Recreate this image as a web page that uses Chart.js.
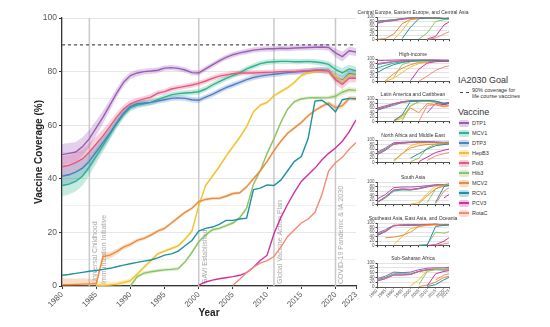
<!DOCTYPE html>
<html>
<head>
<meta charset="utf-8">
<script src="https://cdn.jsdelivr.net/npm/chart.js@4"></script>
<style>
  body { margin: 0; width: 550px; height: 327px; background: #fff; position: relative; overflow: hidden;
         font-family: "Liberation Sans", Arial, sans-serif; }
  canvas { position: absolute; }
  .txt { position: absolute; white-space: nowrap; color: #333; }
  .key { position: absolute; width: 10px; height: 7px; border-radius: 2px; }
  .key i { position: absolute; left: 0; right: 0; top: 2.5px; height: 2px; }
</style>
</head>
<body>
<canvas id="main" width="372" height="327" style="left:0;top:0"></canvas>

<div class="txt" style="left:458px;top:75px;font-size:9px">IA2030 Goal</div>
<div style="position:absolute;left:460px;top:92px;width:9px;border-top:1.3px dashed #444"></div>
<div class="txt" style="left:472px;top:87px;font-size:5.5px;line-height:6px">90% coverage for<br>life course vaccines</div>
<div class="txt" style="left:458px;top:107px;font-size:9px">Vaccine</div>
<div id="legend"></div>

<script>
// main series, one value per year
const years = [1980,1981,1982,1983,1984,1985,1986,1987,1988,1989,1990,1991,1992,1993,1994,1995,1996,1997,1998,1999,
               2000,2001,2002,2003,2004,2005,2006,2007,2008,2009,2010,2011,2012,2013,2014,2015,2016,2017,2018,2019,
               2020,2021,2022,2023];
const xTicks = [1980,1985,1990,1995,2000,2005,2010,2015,2020,2023];
const vaccines = ['DTP1','MCV1','DTP3','HepB3','Pol3','Hib3','MCV2','RCV1','PCV3','RotaC'];

const dtp1  = [49,49.5,50,52,55,59,63,67.5,72,76,78.5,79.5,80,80.2,80.5,81.3,81.5,81.2,80.6,79.6,
               79.5,81,82.5,84,85.3,86.3,87,87.5,88,88.3,88.5,88.5,88.7,88.6,88.8,88.9,89,89.1,89.2,89,
               87,85.6,87.8,87.3];
const mcv1  = [37.5,38,39,41,44.5,48.5,52.5,56.5,60.5,64,66.5,67.5,68,68.5,69.5,70.5,71.3,71.8,72,72.2,
               72.5,73.5,75,76.3,77.5,78.5,79.5,81,82,83,83.5,83.7,83.8,83.8,83.7,83.7,83.8,83.6,83.3,82.7,
               80.8,79.5,81,80.3];
const dtp3  = [41,41.5,42.5,44,46.5,50,53.5,57,61,64.5,67,68,68.3,68.5,69,69.5,70,70.2,70,69.5,
               69.3,70.5,71.5,72.8,74,75,76,77,77.8,78.3,78.7,79,79.3,79.6,79.8,80,80.2,80.5,80.6,80.4,
               78,76.8,79.3,78.8];
const hepb3 = [null,null,null,null,null,0.2,0.3,0.4,0.7,1.3,2,4.5,7,9.5,12,13,14,15,17.5,20.5,
               30,37.5,41,44.5,48.5,52,55.5,59.5,65,67.5,68.5,71,72.5,74,76,78.5,79.5,80,80.2,80.2,
               78.2,76.5,78.8,78.6];
const pol3  = [44.5,45,46,47.5,50,53,56,59.5,63,66,68,69,69.8,70.5,72,72.5,73.5,74,74.5,75,
               75.6,76.5,77.5,78.3,78.8,79.2,79.5,79.5,79.5,79.6,79.7,79.8,80,80,80,80.2,80.3,80.5,80.4,80.2,
               77,75.2,77.5,77.5];
const hib3  = [null,null,null,null,null,null,null,null,null,null,0,3.5,4.8,5.3,5.7,6,6.2,6.5,9,12.5,
               16.5,19,21,21.5,22.5,23.5,25.5,29,38,43,49.5,55,61,66,68.8,69.8,70.2,70.3,70.2,70.3,
               70.8,72.3,73.2,73];
const mcv2  = [0.5,0.5,0.6,0.7,0.8,0.8,11,11.5,12.8,14.5,15.5,17,17.8,19,20.5,21.5,23.5,25.5,27.5,29,
               31.5,32.3,32.7,32.7,33.5,34.5,34.8,37,40,43,46.5,50.5,54,57,59,61,63.5,65.5,67,68.3,
               66.5,67.3,70,70];
const rcv1  = [4,4.3,4.7,5.1,5.5,5.8,6.2,6.6,7.2,7.8,8.3,8.8,9.3,9.7,10.5,11.5,12,13,15,17,
               20.5,21.5,22,23,24.5,24.5,25,25.3,36,36.5,37.7,37.5,39.5,43,46.5,48.3,55,69,69.3,67.5,
               65,69.5,70,69.8];
const pcv3  = [null,null,null,null,null,null,null,null,null,null,null,null,null,null,null,null,null,null,null,null,
               0.3,1.5,2.2,2.7,3.1,3.5,4,5,7,9.5,11.5,19.5,25.5,30.5,35,39,41.5,44,47,49.5,
               51.5,54,57.5,62];
const rotac = [null,null,null,null,null,null,null,null,null,null,null,null,null,null,null,null,null,null,null,null,
               null,null,null,null,null,0.3,2.5,5,7,8.5,9.5,11,14.5,18.5,21,23.5,25,27.5,34,43,
               46,48,51,53.5];
// half width of the uncertainty ribbons
const bandHalf = [4,3.9,3.7,3.5,3.2,2.8,2.4,2,1.7,1.5,1.3,1.2,1.1,1.1,1,1,1,1,1,1,
                  1,1,1,1,1,1,1,1,1,1,1,1,1,1,1,1,1,1,1.1,1.2,
                  1.6,1.8,1.6,1.5];

const goalValue = 90;
const eventYears = [1984, 2000, 2011, 2020];
const eventLabels = [['Universal Childhood', 'Immunization Initiative'], ['GAVI Established'],
                     ['Global Vaccine Action Plan'], ['COVID-19 Pandemic & IA 2030']];

// regional panels
const regionYears = [1980,1985,1990,1995,2000,2005,2010,2015,2020,2023];
const ceeca = {
  DTP1:  [82,85,88,93,96,96,97,97,94,95],
  MCV1:  [80,84,88,93,96,96,97,96,93,94],
  DTP3:  [72,80,84,90,94,95,96,95,92,94],
  HepB3: [null,null,2,40,88,93,95,95,92,93],
  Pol3:  [75,82,85,91,95,95,96,95,92,94],
  Hib3:  [null,null,null,null,null,3,30,80,88,90],
  MCV2:  [2,5,25,70,90,93,95,95,93,94],
  RCV1:  [null,null,null,5,55,93,95,95,93,94],
  PCV3:  [null,null,null,null,null,null,3,15,65,78],
  RotaC: [null,null,null,null,null,null,1,8,25,35]
};
const highIncome = {
  DTP1:  [93,94,95,96,96,96,96,96,95,95],
  MCV1:  [60,72,82,88,91,92,93,93,92,92],
  DTP3:  [75,82,88,92,93,94,94,94,93,93],
  HepB3: [null,2,15,40,65,80,86,90,90,91],
  Pol3:  [80,85,89,92,93,93,94,94,93,93],
  Hib3:  [null,null,20,75,88,92,93,93,93,93],
  MCV2:  [null,5,35,60,75,85,88,90,91,91],
  RCV1:  [40,60,75,85,90,92,93,93,92,92],
  PCV3:  [null,null,null,null,5,55,82,88,90,90],
  RotaC: [null,null,null,null,null,2,25,50,65,70]
};
const latam = {
  DTP1:  [60,70,80,88,92,93,93,90,82,85],
  MCV1:  [55,65,78,88,93,93,93,90,80,83],
  DTP3:  [50,62,72,85,90,91,91,88,78,82],
  HepB3: [null,null,3,15,70,88,90,86,78,80],
  Pol3:  [55,65,78,86,90,91,91,88,78,82],
  Hib3:  [null,null,null,5,70,88,90,86,78,80],
  MCV2:  [null,null,2,25,60,40,80,75,65,70],
  RCV1:  [null,null,5,30,90,92,93,90,80,83],
  PCV3:  [null,null,null,null,null,null,40,80,75,80],
  RotaC: [null,null,null,null,null,2,72,75,70,72]
};
const name = {
  DTP1:  [45,65,88,90,92,93,93,92,90,91],
  MCV1:  [40,60,82,87,90,91,91,90,88,88],
  DTP3:  [35,55,82,86,89,90,90,89,86,88],
  HepB3: [null,null,5,40,75,86,88,88,86,87],
  Pol3:  [35,55,82,86,89,90,90,89,86,88],
  Hib3:  [null,null,null,null,5,20,65,82,84,86],
  MCV2:  [null,null,10,40,65,75,80,82,82,84],
  RCV1:  [null,null,null,null,20,40,60,75,80,82],
  PCV3:  [null,null,null,null,null,5,25,45,55,60],
  RotaC: [null,null,null,null,null,null,10,30,40,45]
};
const southAsia = {
  DTP1:  [25,45,75,78,78,80,84,88,89,91],
  MCV1:  [10,30,60,65,65,72,80,86,87,90],
  DTP3:  [10,35,65,68,65,70,78,85,87,90],
  HepB3: [null,null,null,null,2,10,50,82,86,88],
  Pol3:  [10,35,65,70,68,72,80,86,87,90],
  Hib3:  [null,null,null,null,null,null,10,70,86,88],
  MCV2:  [null,null,null,null,null,5,40,70,82,85],
  RCV1:  [null,null,null,null,null,null,null,10,80,85],
  PCV3:  [null,null,null,null,null,null,null,null,30,45],
  RotaC: [null,null,null,null,null,null,null,5,60,75]
};
const seao = {
  DTP1:  [55,70,90,92,93,92,93,94,92,93],
  MCV1:  [45,62,88,90,90,92,94,95,92,93],
  DTP3:  [45,62,88,90,90,91,93,94,91,92],
  HepB3: [null,null,5,40,75,85,90,92,90,91],
  Pol3:  [50,65,88,90,91,91,93,94,91,92],
  Hib3:  [null,null,null,null,null,2,5,60,55,62],
  MCV2:  [null,35,38,45,60,85,90,92,90,91],
  RCV1:  [null,null,null,null,null,2,3,85,90,92],
  PCV3:  [null,null,null,null,null,null,1,5,20,35],
  RotaC: [null,null,null,null,null,null,null,2,8,12]
};
const ssa = {
  DTP1:  [35,45,62,60,62,72,78,80,80,82],
  MCV1:  [30,40,55,55,55,65,70,72,70,72],
  DTP3:  [25,35,50,50,52,65,72,75,74,75],
  HepB3: [null,null,null,null,5,30,70,74,74,75],
  Pol3:  [25,35,50,50,52,65,72,74,73,74],
  Hib3:  [null,null,null,null,null,10,65,73,73,75],
  MCV2:  [null,null,null,null,null,2,8,20,40,45],
  RCV1:  [null,null,null,null,null,null,2,10,30,40],
  PCV3:  [null,null,null,null,null,null,5,55,65,68],
  RotaC: [null,null,null,null,null,null,null,30,50,55]
};
const regionTitles = ['Central Europe, Eastern Europe, and Central Asia', 'High-income', 'Latin America and Caribbean',
                      'North Africa and Middle East', 'South Asia', 'Southeast Asia, East Asia, and Oceania',
                      'Sub-Saharan Africa'];
const regions = [ceeca, highIncome, latam, name, southAsia, seao, ssa];

const colors = {
  DTP1: '#9b5bb6', MCV1: '#2eb38d', DTP3: '#4f7ec6', HepB3: '#f2c12e', Pol3: '#e8567f',
  Hib3: '#8dc463', MCV2: '#ec8b3b', RCV1: '#21909e', PCV3: '#d12f9f', RotaC: '#f48a73'
};
const mainSeries = { DTP1: dtp1, MCV1: mcv1, DTP3: dtp3, HepB3: hepb3, Pol3: pol3,
                     Hib3: hib3, MCV2: mcv2, RCV1: rcv1, PCV3: pcv3, RotaC: rotac };
const withBand = ['DTP1', 'MCV1', 'DTP3', 'Pol3', 'MCV2', 'Hib3', 'HepB3'];

function alpha(hex, a) {
  const n = parseInt(hex.slice(1), 16);
  return `rgba(${n >> 16},${(n >> 8) & 255},${n & 255},${a})`;
}

const FONT = '"Liberation Sans", Arial, sans-serif';
Chart.defaults.font.family = FONT;

// ---------- main chart ----------
const mainSets = [];
withBand.forEach(v => {
  const vals = mainSeries[v];
  const w = v === 'DTP1' || v === 'MCV1' || v === 'DTP3' || v === 'Pol3' ? 1 : 0.6;
  mainSets.push({ data: vals.map((d, i) => d == null ? null : d - bandHalf[i] * w),
                  borderWidth: 0, pointRadius: 0, fill: false, order: 20 });
  mainSets.push({ data: vals.map((d, i) => d == null ? null : d + bandHalf[i] * w),
                  borderWidth: 0, pointRadius: 0, fill: '-1', backgroundColor: alpha(colors[v], 0.28), order: 20 });
});
vaccines.slice().reverse().forEach((v, k) => {
  mainSets.push({ label: v, data: mainSeries[v], borderColor: colors[v], borderWidth: 1.4,
                  pointRadius: 0, tension: 0, fill: false, order: k });
});

const mainDecor = {
  id: 'mainDecor',
  beforeDatasetsDraw(chart) {
    const { ctx, chartArea, scales: { x } } = chart;
    ctx.save();
    eventYears.forEach((yr, i) => {
      const px = x.getPixelForValue(yr);
      ctx.strokeStyle = '#c9c9c9';
      ctx.lineWidth = 1.5;
      ctx.beginPath();
      ctx.moveTo(px, chartArea.top);
      ctx.lineTo(px, chartArea.bottom);
      ctx.stroke();
      ctx.save();
      ctx.translate(px + 6, chartArea.bottom - 2);
      ctx.rotate(-Math.PI / 2);
      ctx.fillStyle = '#a8a8a8';
      ctx.font = '7px ' + FONT;
      ctx.textAlign = 'left';
      ctx.textBaseline = 'middle';
      eventLabels[i].forEach((t, j) => ctx.fillText(t, 0, j * 9));
      ctx.restore();
    });
    ctx.restore();
  },
  afterDatasetsDraw(chart) {
    const { ctx, chartArea, scales: { y } } = chart;
    const py = y.getPixelForValue(goalValue);
    ctx.save();
    ctx.strokeStyle = '#555';
    ctx.lineWidth = 1.3;
    ctx.setLineDash([3, 3]);
    ctx.beginPath();
    ctx.moveTo(chartArea.left, py);
    ctx.lineTo(chartArea.right, py);
    ctx.stroke();
    ctx.restore();
  }
};

new Chart(document.getElementById('main'), {
  type: 'line',
  data: { labels: years, datasets: mainSets },
  options: {
    responsive: false,
    animation: false,
    layout: { padding: { top: 18, right: 16, left: 0, bottom: 0 } },
    plugins: { legend: { display: false }, tooltip: { enabled: false } },
    scales: {
      x: {
        type: 'linear', min: 1980, max: 2023,
        afterBuildTicks: s => { s.ticks = xTicks.map(v => ({ value: v })); },
        afterFit: s => { s.height = 41; },
        ticks: { color: '#555', font: { size: 8 }, minRotation: 45, maxRotation: 45, padding: 1,
                 autoSkip: false, callback: v => String(v) },
        grid: { drawOnChartArea: false, tickLength: 3, tickColor: '#333' },
        border: { color: '#333', width: 1.3 },
        title: { display: true, text: 'Year', color: '#222', font: { size: 10, weight: 'bold' },
                 padding: { top: 0, bottom: 8 } }
      },
      y: {
        min: 0, max: 100,
        afterFit: s => { s.width = 62; },
        ticks: { stepSize: 10, color: '#555', font: { size: 8.5 }, padding: 2,
                 callback: v => v % 20 === 0 ? String(v) : '' },
        grid: { color: c => c.tick.value % 20 === 0 ? '#e6e6e6' : '#f0f0f0', tickLength: 3,
                tickColor: c => c.tick.value % 20 === 0 ? '#333' : 'rgba(0,0,0,0)' },
        border: { color: '#333', width: 1.3 },
        title: { display: true, text: 'Vaccine Coverage (%)', color: '#222', font: { size: 10, weight: 'bold' },
                 padding: { top: 33, bottom: 0 } }
      }
    }
  },
  plugins: [mainDecor]
});

// ---------- regional panels ----------
const panelTops = [17, 59, 99, 140, 182, 223, 263];
const panelH = 24;
const panelLeft = 346, panelWidth = 124;   // canvas spans this; plot area runs 377..449

const panelTitle = {
  id: 'panelTitle',
  afterDraw(chart) {
    const { ctx, chartArea } = chart;
    ctx.save();
    ctx.fillStyle = '#333';
    ctx.font = '5px ' + FONT;
    ctx.textAlign = 'center';
    ctx.textBaseline = 'alphabetic';
    ctx.fillText(chart.options.plugins.panelTitle.text, (chartArea.left + chartArea.right) / 2, chartArea.top - 3);
    ctx.restore();
  }
};

regions.forEach((reg, r) => {
  const last = r === regions.length - 1;
  const cv = document.createElement('canvas');
  const h = panelH + 9 + (last ? 16 : 2);
  cv.width = panelWidth;
  cv.height = h;
  cv.style.left = panelLeft + 'px';
  cv.style.top = (panelTops[r] - 9) + 'px';
  document.body.appendChild(cv);
  const sets = vaccines.slice().reverse().map(v => ({
    data: reg[v], borderColor: colors[v], borderWidth: 1, pointRadius: 0, tension: 0, fill: false
  }));
  new Chart(cv, {
    type: 'line',
    data: { labels: regionYears, datasets: sets },
    options: {
      responsive: false,
      animation: false,
      layout: { padding: { top: 9, right: panelLeft + panelWidth - 449, left: 0, bottom: 0 } },
      plugins: { legend: { display: false }, tooltip: { enabled: false }, panelTitle: { text: regionTitles[r] } },
      scales: {
        x: {
          type: 'linear', min: 1980, max: 2023,
          afterBuildTicks: s => { s.ticks = xTicks.map(v => ({ value: v })); },
          afterFit: s => { s.height = last ? 16 : 2; },
          ticks: { display: last, color: '#555', font: { size: 4.5, lineHeight: 1 }, minRotation: 45, maxRotation: 45,
                   padding: 0, autoSkip: false, callback: v => String(v) },
          grid: { drawOnChartArea: false, tickLength: 1.5, tickColor: '#333' },
          border: { color: '#333', width: 0.8 }
        },
        y: {
          min: 0, max: 100,
          afterFit: s => { s.width = 377 - panelLeft; },
          ticks: { stepSize: 20, color: '#555', font: { size: 4.5, lineHeight: 1 }, padding: 1, autoSkip: false },
          grid: { color: '#e3e3e3', tickLength: 1.5, tickColor: '#333' },
          border: { color: '#333', width: 0.8 }
        }
      }
    },
    plugins: [panelTitle]
  });
});

// ---------- legend ----------
const legend = document.getElementById('legend');
vaccines.forEach((v, i) => {
  const cy = 123 + i * 10;
  const key = document.createElement('div');
  key.className = 'key';
  key.style.left = '459px';
  key.style.top = (cy - 3.5) + 'px';
  key.style.background = alpha(colors[v], 0.3);
  const line = document.createElement('i');
  line.style.background = colors[v];
  key.appendChild(line);
  legend.appendChild(key);
  const t = document.createElement('div');
  t.className = 'txt';
  t.style.left = '472px';
  t.style.top = (cy - 3.5) + 'px';
  t.style.fontSize = '5.5px';
  t.style.lineHeight = '7px';
  t.textContent = v;
  legend.appendChild(t);
});
</script>
</body>
</html>
